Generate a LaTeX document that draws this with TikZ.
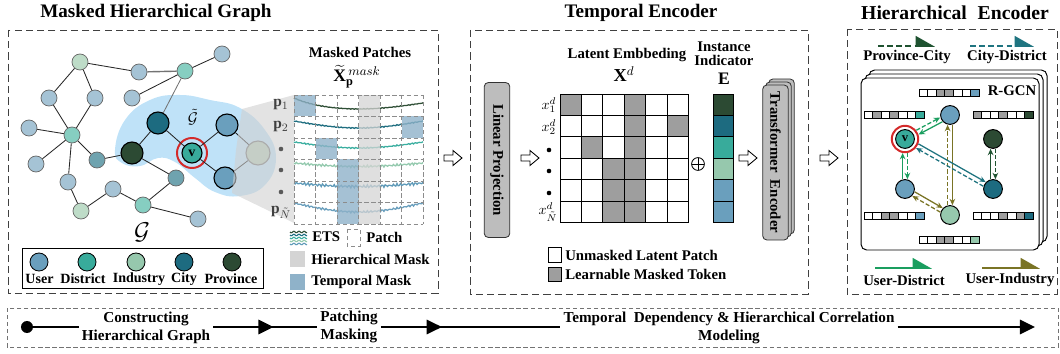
\documentclass[tikz,border=0pt]{standalone}
\usepackage{amsmath}
\usepackage{fontspec}
\setmainfont{Liberation Serif}
\usetikzlibrary{shapes,arrows.meta,positioning,calc,decorations.markings}

\definecolor{cUser}{HTML}{6A9FBD}
\definecolor{cDist}{HTML}{38AB9B}
\definecolor{cInd}{HTML}{96C8AD}
\definecolor{cCity}{HTML}{1D6B80}
\definecolor{cProv}{HTML}{2C4A33}
\definecolor{lUser}{HTML}{A5C3D5}
\definecolor{lDist}{HTML}{86CEC1}
\definecolor{lInd}{HTML}{BEDCC8}
\definecolor{lCity}{HTML}{6FA3AF}
\definecolor{fInd}{HTML}{B3CBB7}
\definecolor{blobblue}{HTML}{BFE2F8}
\definecolor{tmask}{HTML}{8FB2C9}
\definecolor{hmask}{HTML}{D4D4D4}
\definecolor{tokgrey}{HTML}{9E9E9E}
\definecolor{ringred}{HTML}{D42A2A}
\definecolor{relUD}{HTML}{1A9E5F}
\definecolor{relUI}{HTML}{7A7425}
\definecolor{relPC}{HTML}{1E5230}
\definecolor{relCD}{HTML}{1F7480}
\definecolor{ets1}{HTML}{2F4F36}
\definecolor{ets2}{HTML}{1F6E80}
\definecolor{ets3}{HTML}{3AAEA0}
\definecolor{ets4}{HTML}{93C9AD}
\definecolor{ets5}{HTML}{5F9AB8}
\definecolor{ets6}{HTML}{6A9FBD}

% one relation = solid one way, dashed back
\newcommand{\relpair}[5]{%
  \draw[#3, rel, shorten <=#4, shorten >=#5] ($(#1)!1.7pt!90:(#2)$) -- ($(#2)!1.7pt!-90:(#1)$);
  \draw[#3, rel, dash pattern=on 3pt off 1.5pt, shorten <=#5, shorten >=#4] ($(#2)!1.7pt!90:(#1)$) -- ($(#1)!1.7pt!-90:(#2)$);
}
% feature bar of seven cells
\newcommand{\featbar}[3]{%
  \foreach \fc [count=\i from 0] in {#3}
    \draw[fill=\fc, line width=0.5pt] ({#1+8.6*\i},#2) rectangle ++(8.6,7);
}
% one entity time series in the patch grid
\newcommand{\etsrow}[5]{%
  \draw[#1, line width=0.9pt] plot[domain=0:129, samples=110, variable=\t]
    ({294+\t}, {#2 + #3*sin(1.3953*\t) - #4*(1-\t/129)^8 + #5*(sin(\t*97)+0.6*sin(\t*121+40))});
}
% hollow block arrow between stages
\newcommand{\hollowarrow}[3]{%
  \coordinate (#1) at (#2,#3);
  \draw[fill=white, line width=0.6pt] ($(#1)+(-9,-3)$) -- ++(9,0) -- ++(0,-4.5) -- ++(9,7.5) -- ++(-9,7.5) -- ++(0,-4.5) -- ++(-9,0) -- cycle;
}

\begin{document}
\begin{tikzpicture}[
    x=0.025cm, y=-0.025cm,
    panel/.style={draw=black!75, dash pattern=on 5pt off 3pt, line width=0.7pt},
    paneltitle/.style={font=\fontsize{13.6}{15}\selectfont\bfseries},
    lbl/.style={font=\fontsize{10.5}{11}\selectfont\bfseries, inner sep=0pt},
    lgd/.style={font=\fontsize{10}{11}\selectfont\bfseries, inner sep=0pt},
    banner/.style={font=\fontsize{10.8}{12.5}\selectfont\bfseries, align=center, inner sep=2pt},
    gnode/.style={circle, draw=black!60, line width=0.5pt, minimum size=0.4cm, inner sep=0pt},
    bnode/.style={circle, draw=black, line width=0.8pt, minimum size=0.55cm, inner sep=0pt},
    rnode/.style={circle, draw=black, line width=0.7pt, minimum size=0.47cm, inner sep=0pt},
    lnode/.style={circle, draw=black, line width=0.6pt, minimum size=0.45cm, inner sep=0pt},
    link/.style={draw=black!85, line width=0.6pt},
    ring/.style={circle, draw=ringred, line width=1.4pt, inner sep=0pt},
    patchline/.style={draw=black!45, line width=0.5pt, dash pattern=on 3pt off 2pt},
    cell/.style={draw=black, line width=0.6pt},
    grey box/.style={draw=black!80, fill=black!26, rounded corners=3pt, line width=0.6pt, rotate=-90, minimum height=0.64cm, font=\fontsize{10.5}{11}\selectfont\bfseries},
    rel/.style={line width=0.9pt, -{Stealth[length=4.5pt, width=4pt]}},
    relkey/.style={line width=1.1pt, -{Triangle[left, length=0.45cm, width=0.5cm]}},
    flow/.style={line width=1.4pt},
    midtip/.style={postaction={decorate}, decoration={markings, mark=at position #1 with {\arrow{Triangle[length=0.38cm, width=0.36cm]}}}}
]
\useasboundingbox (0,0) rectangle (1060,354);

% Titles and panels
\node[paneltitle] (title1) at (156,13) {Masked Hierarchical Graph};
\node[paneltitle] (title2) at (641,13) {Temporal Encoder};
\node[paneltitle, font=\fontsize{14}{15}\selectfont\bfseries] (title3) at (955,13) {Hierarchical\hspace{0.55em}Encoder};
\draw[panel] (8,30) rectangle (438,293);
\draw[panel] (470,30) rectangle (808,294);
\draw[panel] (847,29) rectangle (1057,294);
\draw[draw=black!55, dash pattern=on 3pt off 2pt, line width=0.4pt] (7,308) rectangle (1058,347);

% ---------------- Masked Hierarchical Graph ----------------
\fill[blobblue] plot[smooth cycle, tension=0.75] coordinates {(115,150) (125,120) (150,100) (180,95) (210,100) (240,108) (265,130) (276,158) (265,185) (240,196) (215,192) (195,178) (175,162) (158,158) (140,166) (122,163)};

% background graph
\node[gnode, fill=lInd]  (n1)  at (80,62)  {};
\node[gnode, fill=lUser] (n2)  at (139,72) {};
\node[gnode, fill=lDist] (n3)  at (185,71) {};
\node[gnode, fill=lUser] (n4)  at (222,54) {};
\node[gnode, fill=lUser] (n5)  at (49,98)  {};
\node[gnode, fill=lUser] (n6)  at (95,98)  {};
\node[gnode, fill=lUser] (n7)  at (132,98) {};
\node[gnode, fill=lUser] (n8)  at (29,128) {};
\node[gnode, fill=lDist] (n9)  at (72,135) {};
\node[gnode, fill=lUser] (n10) at (36,164) {};
\node[gnode, fill=lCity] (n11) at (97,160) {};
\node[gnode, fill=lCity] (n17) at (176,178) {};
\node[gnode, fill=lUser] (n18) at (68,182) {};
\node[gnode, fill=lUser] (n19) at (113,189) {};
\node[gnode, fill=lDist] (n20) at (143,205) {};
\node[gnode, fill=lInd]  (n21) at (81,211) {};
\node[gnode, fill=lUser] (n22) at (198,219) {};

% masked subgraph
\node[bnode, fill=cCity] (gc)  at (158,123) {};
\node[bnode, fill=cProv] (gp)  at (132,153) {};
\node[bnode, fill=cDist, minimum size=0.5cm, font=\bfseries\fontsize{10}{10}\selectfont] (gv) at (192,153) {v};
\node[bnode, fill=cUser] (gu1) at (227,125) {};
\node[bnode, fill=cUser] (gu2) at (225,178) {};
\node[bnode, fill=fInd, draw=black!55, minimum size=0.6cm] (gi) at (258,153) {};
\node[ring, minimum size=0.75cm] (gvring) at (gv) {};
\node[font=\fontsize{11}{11}\selectfont, inner sep=0pt] (gtilde) at (193,117) {$\tilde{\mathcal{G}}$};

\draw[link] (n1) -- (n2) (n3) -- (n4) (n3) -- (n7) (n1) -- (n5) (n1) -- (n6)
  (n5) -- (n9) (n6) -- (n9) (n8) -- (n9) (n9) -- (n10) (n9) -- (n11) (n9) -- (n18)
  (n11) -- (gp) (gp) -- (gc) (gc) -- (gv) (gv) -- (gu1) (gv) -- (gu2)
  (gu1) -- (gi) (gu2) -- (gi) (gp) -- (n17) (n17) -- (n20) (n18) -- (n21)
  (n21) -- (n19) (n19) -- (n20) (n20) -- (n22);
\draw[link, draw=black!55, line width=1pt] (n2) -- (n3);
\draw[link, draw=black!55] (n3) -- (gc);

% zoom wedge towards the patches
\fill[black!18, opacity=0.6] (294,95) -- (242,109) -- (236,150) -- (232,193) -- (294,223) -- cycle;

\node[font=\fontsize{17}{17}\selectfont] (gfull) at (142,232) {$\mathcal{G}$};

% node type legend
\draw[line width=0.6pt] (22,248) rectangle (263,288);
\foreach \fc/\xx/\tx/\lx [count=\k] in {cUser/39/User/39.5, cDist/87/District/83, cInd/136/Industry/139, cCity/184/City/184, cProv/232/Province/231} {
  \node[lnode, fill=\fc] (leg\k) at (\xx,262) {};
  \node[lgd] (legt\k) at (\lx,279) {\tx};
}

% masked patches
\node[lbl] (mp) at (360,52) {Masked Patches};
\node[font=\fontsize{12.5}{13}\selectfont, inner sep=0pt] (xmask) at (357,77) {$\widetilde{\mathbf{X}}_{\mathbf{p}}^{\,mask}$};

\etsrow{ets1}{103}{6}{5}{0.25}
\etsrow{ets2}{121}{7}{0}{0.35}
\etsrow{ets3}{142}{6}{0}{0.4}
\etsrow{ets4}{163}{3.5}{0}{0.8}
\etsrow{ets5}{183}{3.5}{0}{1.0}
\etsrow{ets6}{203}{9}{0}{0.7}

\fill[hmask, opacity=0.75] (358.5,95) rectangle (380,224);
\foreach \c/\r in {0/0, 5/1, 1/2, 2/3, 2/4, 2/5}
  \fill[tmask, opacity=0.8] ({294+21.5*\c},{95+21.5*\r}) rectangle ++(21.5,21.5);
\foreach \i in {0,...,6} {
  \draw[patchline] ({294+21.5*\i},95) -- ({294+21.5*\i},224);
  \draw[patchline] (294,{95+21.5*\i}) -- (423,{95+21.5*\i});
}

\node[font=\fontsize{11}{11}\selectfont, text=black!75, inner sep=0pt] (p1) at (281,105) {$\mathbf{p}_1$};
\node[font=\fontsize{11}{11}\selectfont, text=black!75, inner sep=0pt] (p2) at (281,127) {$\mathbf{p}_2$};
\node[font=\fontsize{11}{11}\selectfont, text=black!75, inner sep=0pt] (pN) at (281,212) {$\mathbf{p}_{\tilde{N}}$};
\foreach \yy in {149,170,192} \fill[black!65] (281,\yy) circle (2.3);

% patch legend
\foreach \fc/\yy in {ets1/232, ets2/235, ets3/238, ets4/241, ets5/244}
  \draw[\fc, line width=0.8pt] plot[domain=0:17, samples=18, variable=\t] ({290+\t},{\yy+0.8*sin(\t*70)});
\node[lbl, anchor=west] (ets) at (312,237) {ETS};
\draw[patchline] (347,229) rectangle (360,246);
\node[lbl, anchor=west] (patch) at (366,237) {Patch};
\fill[hmask] (290,251) rectangle (305,267);
\node[lbl, anchor=west] (hm) at (311,259) {Hierarchical Mask};
\fill[tmask] (290,274) rectangle (305,290);
\node[lbl, anchor=west] (tm) at (311,282) {Temporal Mask};

\hollowarrow{ha1}{453}{158}

% ---------------- Temporal Encoder ----------------
\node[grey box, minimum width=3.875cm] (linproj) at (497,160) {Linear Projection};
\hollowarrow{ha2}{530}{158}

\node[lbl] (latent) at (627,55) {Latent Embbeding};
\node[font=\fontsize{13}{13}\selectfont, inner sep=0pt] (xd) at (624,74) {$\mathbf{X}^{d}$};
\foreach \r in {0,...,5} \foreach \c in {0,...,5}
  \draw[cell, fill=white] ({560+21.4*\c},{94+21.4*\r}) rectangle ++(21.4,21.4);
\foreach \c/\r in {0/0,3/0,3/1,5/1,1/2,3/2,2/3,3/3,2/4,3/4,2/5,3/5}
  \draw[cell, fill=tokgrey] ({560+21.4*\c},{94+21.4*\r}) rectangle ++(21.4,21.4);
\node[font=\fontsize{10}{10}\selectfont, inner sep=0pt] (x1) at (549,105) {$x_1^d$};
\node[font=\fontsize{10}{10}\selectfont, inner sep=0pt] (x2) at (549,127) {$x_2^d$};
\node[font=\fontsize{10}{10}\selectfont, inner sep=0pt] (xN) at (548,212) {$x_{\tilde{N}}^d$};
\foreach \yy in {150,171,193} \fill (549,\yy) circle (2.3);

\node[circle, draw, line width=0.6pt, minimum size=0.32cm, inner sep=0pt,
  path picture={\draw[line width=0.6pt] (path picture bounding box.north) -- (path picture bounding box.south) (path picture bounding box.west) -- (path picture bounding box.east);}] (plus) at (698,164) {};

\node[lbl, align=center] (inst) at (724,54) {Instance\\[-1pt]Indicator};
\node[font=\fontsize{12.5}{13}\selectfont, inner sep=0pt] (evec) at (724,79) {$\mathbf{E}$};
\foreach \fc [count=\i from 0] in {cProv,cCity,cDist,cInd,cUser,cUser}
  \draw[cell, fill=\fc] (713,{94+21.4*\i}) rectangle ++(20,21.4);

\hollowarrow{ha3}{748}{158}
\foreach \k in {2,1}
  \node[grey box, minimum width=3.875cm] at ({775.5+3*\k},{162.5-3*\k}) {};
\node[grey box, minimum width=3.875cm] (tfenc) at (775.5,162.5) {Transformer\ \ Encoder};

\draw[cell] (548,247) rectangle (561,262);
\node[lbl, anchor=west] (unm) at (565,255) {Unmasked Latent Patch};
\draw[cell, fill=tokgrey] (548,267) rectangle (561,281);
\node[lbl, anchor=west] (lmt) at (565,274) {Learnable Masked Token};

\hollowarrow{ha4}{829}{158}

% ---------------- Hierarchical Encoder ----------------
\draw[relPC, relkey, dash pattern=on 4pt off 2.5pt] (878,46) -- (935,46);
\node[lbl] (kpc) at (907,57) {Province-City};
\draw[relCD, relkey, dash pattern=on 4pt off 2.5pt] (970,46) -- (1034,46);
\node[lbl] (kcd) at (1007,57) {City-District};

\foreach \k in {2,1}
  \draw[fill=white, rounded corners=4pt, line width=0.7pt] ({861+4*\k},{78-4*\k}) rectangle ({1039+4*\k},{250-4*\k});
\draw[fill=white, rounded corners=4pt, line width=0.7pt] (861,78) rectangle (1039,250);
\node[lbl] (rgcn) at (1012,91) {R-GCN};

\node[rnode, fill=cUser] (ru1) at (950,115) {};
\node[rnode, fill=cDist, font=\bfseries\fontsize{9}{9}\selectfont] (rv) at (905,139) {v};
\node[rnode, fill=cProv] (rp) at (993,139) {};
\node[rnode, fill=cUser] (ru2) at (905,189) {};
\node[rnode, fill=cCity] (rc) at (993,189) {};
\node[rnode, fill=cInd]  (ri) at (950,215) {};
\node[ring, minimum size=0.66cm] (rvring) at (rv) {};

\relpair{ru1}{rv}{relUD}{7pt}{10pt}
\relpair{ru2}{rv}{relUD}{7pt}{10pt}
\relpair{ru1}{ri}{relUI}{7pt}{7pt}
\relpair{ru2}{ri}{relUI}{7pt}{7pt}
\relpair{rv}{rc}{relCD}{10pt}{7pt}
\relpair{rc}{rp}{relPC}{7pt}{7pt}

\featbar{919}{89}{white,white,tokgrey,tokgrey,white,white,cUser}
\featbar{864}{111}{white,tokgrey,white,tokgrey,white,white,cDist}
\featbar{973}{111}{tokgrey,white,white,tokgrey,white,white,cProv}
\featbar{864}{212}{white,white,tokgrey,tokgrey,white,white,cUser}
\featbar{973}{212}{white,white,white,tokgrey,white,tokgrey,cCity}
\featbar{919}{236}{white,white,tokgrey,tokgrey,white,white,cInd}

\draw[relUD, relkey] (875,268) -- (932,268);
\node[lbl] (kud) at (904,280) {User-District};
\draw[relUI, relkey] (982,268) -- (1040,268);
\node[lbl] (kui) at (1010,280) {User-Industry};

% ---------------- Pipeline ----------------
\node[circle, fill=black, minimum size=0.3cm, inner sep=0pt] (bstart) at (27,327) {};
\node[banner] (bs1) at (146,328) {Constructing\\Hierarchical Graph};
\node[banner] (bs2) at (349,327) {Patching\\Masking};
\node[banner] (bs3) at (729,328) {Temporal\ \ Dependency \& Hierarchical Correlation\\Modeling};
\coordinate (bend) at (1035,327);
\draw[flow] (bstart) -- (bs1.west |- bstart);
\draw[flow, midtip=0.58] (bs1.east |- bstart) -- (bs2.west |- bstart);
\draw[flow, midtip=0.34] (bs2.east |- bstart) -- (bs3.west |- bstart);
\draw[flow, -{Triangle[length=0.38cm, width=0.36cm]}] (bs3.east |- bstart) -- (bend);

\end{tikzpicture}
\end{document}
